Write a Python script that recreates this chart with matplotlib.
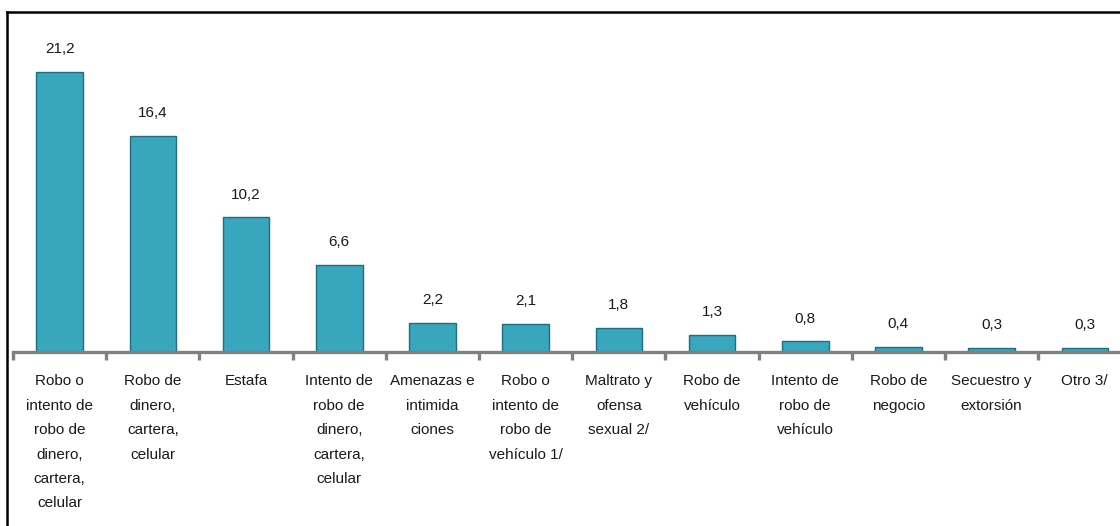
import numpy as np
import matplotlib.pyplot as plt
from matplotlib.lines import Line2D

# ---- data ----
categories = [
    "Robo o\nintento de\nrobo de\ndinero,\ncartera,\ncelular",
    "Robo de\ndinero,\ncartera,\ncelular",
    "Estafa",
    "Intento de\nrobo de\ndinero,\ncartera,\ncelular",
    "Amenazas e\nintimida\nciones",
    "Robo o\nintento de\nrobo de\nvehículo 1/",
    "Maltrato y\nofensa\nsexual 2/",
    "Robo de\nvehículo",
    "Intento de\nrobo de\nvehículo",
    "Robo de\nnegocio",
    "Secuestro y\nextorsión",
    "Otro 3/",
]
values = [21.2, 16.4, 10.2, 6.6, 2.2, 2.1, 1.8, 1.3, 0.8, 0.4, 0.3, 0.3]
value_labels = [f"{v:.1f}".replace(".", ",") for v in values]

font = ['Liberation Sans Narrow', 'Liberation Sans', 'DejaVu Sans']
plt.rcParams['font.family'] = font

W, H = 1120, 526
fig = plt.figure(figsize=(W / 100, H / 100), dpi=100)

# axes placed in pixel terms
x0, base, top = 13, 352, 12
cat_w = 93.2
ax = fig.add_axes([x0 / W, (H - base) / H, len(values) * cat_w / W, (base - top) / H])

x = np.arange(len(values))
bars = ax.bar(x, values, width=0.5, color='#38A6BD', edgecolor='#1E6E7E', linewidth=1.0, zorder=2)

for xi, v, lab in zip(x, values, value_labels):
    ax.text(xi, v + 1.2, lab, ha='center', va='bottom', fontsize=11, color='#1a1a1a')

ax.set_xlim(-0.5, len(values) - 0.5)
ax.set_ylim(0, (base - top) / 13.2)

for s in ['top', 'right', 'left']:
    ax.spines[s].set_visible(False)
ax.spines['bottom'].set_color('#808080')
ax.spines['bottom'].set_linewidth(2.4)
ax.spines['bottom'].set_zorder(3)
ax.set_yticks([])

ax.set_xticks(x)
ax.set_xticklabels(categories, fontsize=11, color='#1a1a1a', linespacing=1.95, va='top')
ax.tick_params(axis='x', which='major', length=0, pad=16)
ax.set_xticks(np.arange(-0.5, len(values), 1.0), minor=True)
ax.tick_params(axis='x', which='minor', direction='out', length=6, width=2.4, color='#808080')

# outer frame (top and left edges)
fig.add_artist(Line2D([7 / W, 1.0], [1 - 12 / H, 1 - 12 / H], color='black', linewidth=1.8, transform=fig.transFigure))
fig.add_artist(Line2D([7 / W, 7 / W], [0, 1 - 12 / H], color='black', linewidth=1.8, transform=fig.transFigure))

plt.savefig("out.png", dpi=100)
plt.close()
